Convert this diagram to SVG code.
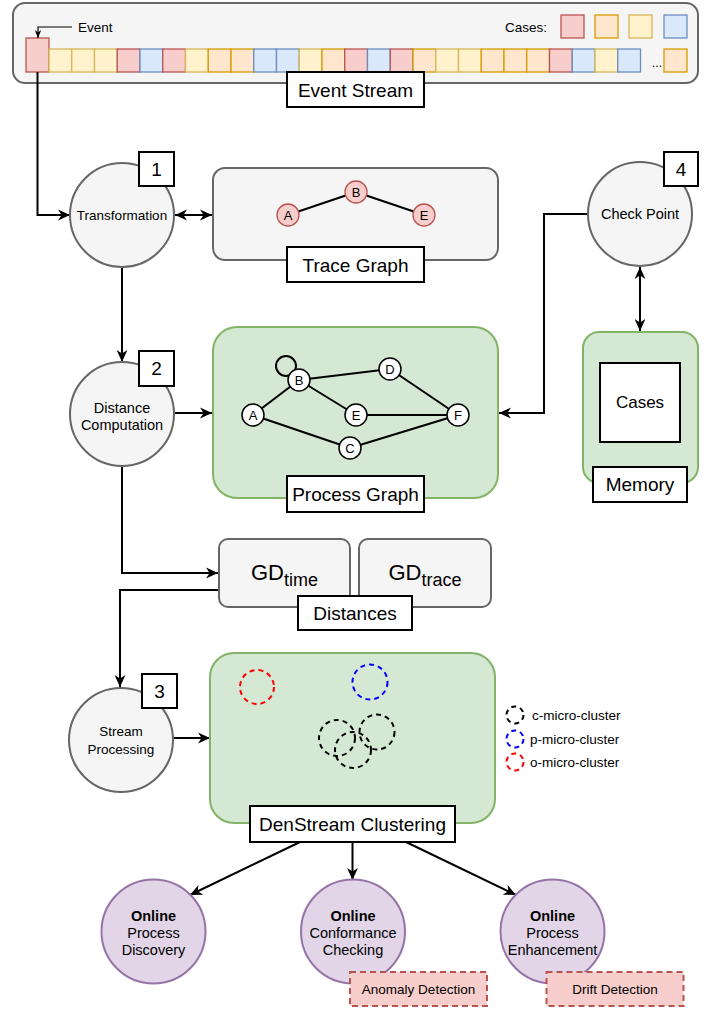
<svg xmlns="http://www.w3.org/2000/svg" width="718" height="1009" viewBox="0 0 718 1009">
<style>
text{font-family:"Liberation Sans",Arial,sans-serif;fill:#000}
.R{fill:#f8cecc;stroke:#b85450;stroke-width:1.3}
.O{fill:#ffe6cc;stroke:#d79b00;stroke-width:1.3}
.Y{fill:#fff2cc;stroke:#d6b656;stroke-width:1.3}
.B{fill:#dae8fc;stroke:#6c8ebf;stroke-width:1.3}
.gray{fill:#f5f5f5;stroke:#666666;stroke-width:2}
.green{fill:#d5e8d4;stroke:#82b366;stroke-width:2}
.purple{fill:#e1d5e7;stroke:#9673a6;stroke-width:2}
.lbl{fill:#ffffff;stroke:#000;stroke-width:2}
.num{fill:#ffffff;stroke:#000;stroke-width:2}
.conn{fill:none;stroke:#000;stroke-width:2}
.edge{stroke:#000;stroke-width:2;fill:none}
.pn{fill:#ffffff;stroke:#000;stroke-width:1.5}
.tn{fill:#f8cecc;stroke:#b85450;stroke-width:1.3}
.dash{fill:none;stroke-width:2;stroke-dasharray:5 4}
.big{font-size:19px;text-anchor:middle}
.mid{font-size:14.5px;text-anchor:middle}
.sm{font-size:13.5px;text-anchor:middle}
.nl{font-size:13px;text-anchor:middle}
.detect{fill:#f8cecc;stroke:#b85450;stroke-width:2;stroke-dasharray:6 4}
</style>
<defs>
<marker id="ah" viewBox="0 0 10 10" refX="10" refY="5" markerWidth="12" markerHeight="12" markerUnits="userSpaceOnUse" orient="auto-start-reverse">
<path d="M0,0.5 L10,5 L0,9.5 L3,5 Z" fill="#000"/>
</marker>
<marker id="ahs" viewBox="0 0 10 10" refX="10" refY="5" markerWidth="8" markerHeight="8" markerUnits="userSpaceOnUse" orient="auto-start-reverse">
<path d="M0,1 L10,5 L0,9 L3,5 Z" fill="#000"/>
</marker>
</defs>

<g id="event-stream">
<rect x="13" y="3" width="685" height="80" rx="12" class="gray"/>
<text x="78" y="32" font-size="13.5px">Event</text>
<text x="505" y="32" font-size="13.5px">Cases:</text>
<rect x="561" y="15" width="23" height="23" class="R"/>
<rect x="595" y="15" width="23" height="23" class="O"/>
<rect x="629" y="15" width="23" height="23" class="Y"/>
<rect x="664" y="15" width="23" height="23" class="B"/>
<rect x="26" y="38" width="23" height="34" class="R"/>
<rect x="49" y="49" width="22.75" height="23" class="Y"/>
<rect x="71.75" y="49" width="22.75" height="23" class="Y"/>
<rect x="94.5" y="49" width="22.75" height="23" class="Y"/>
<rect x="117.25" y="49" width="22.75" height="23" class="R"/>
<rect x="140" y="49" width="22.75" height="23" class="B"/>
<rect x="162.75" y="49" width="22.75" height="23" class="R"/>
<rect x="185.5" y="49" width="22.75" height="23" class="Y"/>
<rect x="208.25" y="49" width="22.75" height="23" class="O"/>
<rect x="231" y="49" width="22.75" height="23" class="O"/>
<rect x="253.75" y="49" width="22.75" height="23" class="B"/>
<rect x="276.5" y="49" width="22.75" height="23" class="B"/>
<rect x="299.25" y="49" width="22.75" height="23" class="Y"/>
<rect x="322" y="49" width="22.75" height="23" class="O"/>
<rect x="344.75" y="49" width="22.75" height="23" class="R"/>
<rect x="367.5" y="49" width="22.75" height="23" class="B"/>
<rect x="390.25" y="49" width="22.75" height="23" class="R"/>
<rect x="413" y="49" width="22.75" height="23" class="O"/>
<rect x="435.75" y="49" width="22.75" height="23" class="Y"/>
<rect x="458.5" y="49" width="22.75" height="23" class="Y"/>
<rect x="481.25" y="49" width="22.75" height="23" class="O"/>
<rect x="504" y="49" width="22.75" height="23" class="O"/>
<rect x="526.75" y="49" width="22.75" height="23" class="O"/>
<rect x="549.5" y="49" width="22.75" height="23" class="R"/>
<rect x="572.25" y="49" width="22.75" height="23" class="B"/>
<rect x="595" y="49" width="22.75" height="23" class="Y"/>
<rect x="617.75" y="49" width="22.75" height="23" class="B"/>
<text x="652" y="67" font-size="12px">...</text>
<rect x="664" y="49" width="23" height="23" class="O"/>
<rect x="287" y="72" width="137" height="35" class="lbl"/>
<text x="355.5" y="97" class="big">Event Stream</text>
</g>

<g id="connectors">
<path d="M72,27 H38 V38" fill="none" stroke="#000" stroke-width="1.2" marker-end="url(#ahs)"/>
<path d="M37.5,72 V215 H70" class="conn" marker-end="url(#ah)"/>
<path d="M175,215 H212" class="conn" marker-start="url(#ah)" marker-end="url(#ah)"/>
<path d="M588,214 H544 V413 H499" class="conn" marker-end="url(#ah)"/>
<path d="M640,267 V331" class="conn" marker-start="url(#ah)" marker-end="url(#ah)"/>
<path d="M122,267 V362" class="conn" marker-end="url(#ah)"/>
<path d="M174,413 H212" class="conn" marker-end="url(#ah)"/>
<path d="M122,466 V573 H218" class="conn" marker-end="url(#ah)"/>
<path d="M219,590 H120 V687" class="conn" marker-end="url(#ah)"/>
<path d="M173,738 H210" class="conn" marker-end="url(#ah)"/>
<path d="M300,842 L190,895" class="conn" marker-end="url(#ah)"/>
<path d="M352.5,842 V880" class="conn" marker-end="url(#ah)"/>
<path d="M406,842 L516,895" class="conn" marker-end="url(#ah)"/>
</g>

<g id="transformation">
<circle cx="122" cy="215" r="52" class="gray"/>
<text x="122" y="220" class="sm">Transformation</text>
<rect x="139" y="152" width="35" height="34" class="num"/>
<text x="156.5" y="176" class="big">1</text>
</g>

<g id="trace-graph">
<rect x="213" y="168" width="285" height="92" rx="12" class="gray"/>
<line x1="288" y1="215" x2="356" y2="192" class="edge"/>
<line x1="356" y1="192" x2="424" y2="215" class="edge"/>
<circle cx="288" cy="215" r="11" class="tn"/>
<text x="288" y="220" class="nl">A</text>
<circle cx="356" cy="192" r="11" class="tn"/>
<text x="356" y="197" class="nl">B</text>
<circle cx="424" cy="215" r="11" class="tn"/>
<text x="424" y="220" class="nl">E</text>
<rect x="287" y="247" width="137" height="35" class="lbl"/>
<text x="355.5" y="272" class="big">Trace Graph</text>
</g>

<g id="check-point">
<circle cx="640" cy="214" r="52" class="gray"/>
<text x="640" y="219" class="mid">Check Point</text>
<rect x="664" y="152" width="34" height="34" class="num"/>
<text x="681" y="176" class="big">4</text>
</g>

<g id="memory">
<rect x="583" y="332" width="115" height="151" rx="16" class="green"/>
<rect x="600" y="363" width="80" height="79" fill="#fff" stroke="#000" stroke-width="2"/>
<text x="640" y="408" font-size="17px" text-anchor="middle">Cases</text>
<rect x="593" y="467" width="94" height="35" class="lbl"/>
<text x="640" y="491" class="big">Memory</text>
</g>

<g id="distance-computation">
<circle cx="122" cy="414" r="52" class="gray"/>
<text x="122" y="413" class="mid">Distance</text>
<text x="122" y="430" class="mid">Computation</text>
<rect x="139" y="351" width="35" height="35" class="num"/>
<text x="156.5" y="375" class="big">2</text>
</g>

<g id="process-graph">
<rect x="213" y="327" width="285" height="171" rx="24" class="green"/>
<circle cx="286" cy="366" r="10" class="edge"/>
<line x1="299" y1="380" x2="390" y2="369" class="edge"/>
<line x1="299" y1="380" x2="253" y2="415" class="edge"/>
<line x1="299" y1="380" x2="356" y2="415" class="edge"/>
<line x1="390" y1="369" x2="458" y2="415" class="edge"/>
<line x1="356" y1="415" x2="458" y2="415" class="edge"/>
<line x1="253" y1="415" x2="350" y2="448" class="edge"/>
<line x1="350" y1="448" x2="458" y2="415" class="edge"/>
<circle cx="299" cy="380" r="11" class="pn"/>
<text x="299" y="385" class="nl">B</text>
<circle cx="390" cy="369" r="11" class="pn"/>
<text x="390" y="374" class="nl">D</text>
<circle cx="253" cy="415" r="11" class="pn"/>
<text x="253" y="420" class="nl">A</text>
<circle cx="356" cy="415" r="11" class="pn"/>
<text x="356" y="420" class="nl">E</text>
<circle cx="458" cy="415" r="11" class="pn"/>
<text x="458" y="420" class="nl">F</text>
<circle cx="350" cy="448" r="11" class="pn"/>
<text x="350" y="453" class="nl">C</text>
<rect x="287" y="476" width="137" height="36" class="lbl"/>
<text x="355.5" y="501" class="big">Process Graph</text>
</g>

<g id="distances">
<rect x="219" y="539" width="131" height="68" rx="9" class="gray"/>
<text x="284.5" y="580" font-size="22px" text-anchor="middle">GD<tspan font-size="18px" dy="6">time</tspan></text>
<rect x="359" y="539" width="132" height="68" rx="9" class="gray"/>
<text x="425" y="580" font-size="22px" text-anchor="middle">GD<tspan font-size="18px" dy="6">trace</tspan></text>
<rect x="298" y="596" width="114" height="34" class="lbl"/>
<text x="355" y="620" class="big">Distances</text>
</g>

<g id="stream-processing">
<circle cx="121" cy="740" r="52" class="gray"/>
<text x="121" y="736" class="sm">Stream</text>
<text x="121" y="754" class="sm">Processing</text>
<rect x="142" y="674" width="35" height="34" class="num"/>
<text x="159.5" y="698" class="big">3</text>
</g>

<g id="denstream">
<rect x="210" y="653" width="285" height="170" rx="24" class="green"/>
<circle cx="257" cy="687" r="17" class="dash" stroke="#ff0000"/>
<circle cx="370" cy="682" r="17.5" class="dash" stroke="#0000ff"/>
<circle cx="337" cy="738" r="18" class="dash" stroke="#000"/>
<circle cx="353" cy="750" r="18" class="dash" stroke="#000"/>
<circle cx="377" cy="732" r="17.5" class="dash" stroke="#000"/>
<rect x="250" y="806" width="205" height="36" class="lbl"/>
<text x="352.5" y="831" class="big">DenStream Clustering</text>
</g>

<g id="legend">
<circle cx="515" cy="715" r="8.5" class="dash" stroke="#000"/>
<text x="532" y="720" font-size="13.5px">c-micro-cluster</text>
<circle cx="515" cy="739" r="8.5" class="dash" stroke="#0000ff"/>
<text x="530" y="744" font-size="13.5px">p-micro-cluster</text>
<circle cx="515" cy="762" r="8.5" class="dash" stroke="#ff0000"/>
<text x="530" y="767" font-size="13.5px">o-micro-cluster</text>
</g>

<g id="online-discovery">
<circle cx="153.5" cy="931.5" r="52" class="purple"/>
<text x="153.5" y="921" class="mid" font-weight="bold">Online</text>
<text x="153.5" y="938" class="mid">Process</text>
<text x="153.5" y="955" class="mid">Discovery</text>
</g>

<g id="online-conformance">
<circle cx="353" cy="931.5" r="52" class="purple"/>
<text x="353" y="921" class="mid" font-weight="bold">Online</text>
<text x="353" y="938" class="mid">Conformance</text>
<text x="353" y="955" class="mid">Checking</text>
</g>

<g id="online-enhancement">
<circle cx="552.5" cy="931.5" r="52" class="purple"/>
<text x="552.5" y="921" class="mid" font-weight="bold">Online</text>
<text x="552.5" y="938" class="mid">Process</text>
<text x="552.5" y="955" class="mid">Enhancement</text>
</g>

<g id="anomaly-detection">
<rect x="350" y="972" width="137" height="34" class="detect"/>
<text x="418.5" y="994" class="sm">Anomaly Detection</text>
</g>

<g id="drift-detection">
<rect x="546.5" y="972" width="137" height="34" class="detect"/>
<text x="615" y="994" class="sm">Drift Detection</text>
</g>
</svg>
